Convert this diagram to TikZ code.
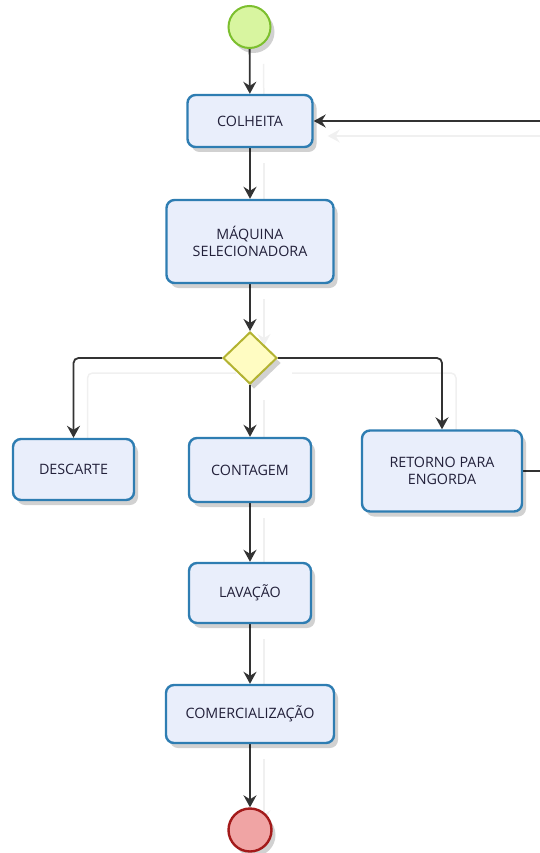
\documentclass[tikz,border=0pt]{standalone}
\usepackage{fontspec}
\setmainfont{Open Sans}
\usetikzlibrary{arrows.meta,shapes.geometric,shadows,backgrounds}
\definecolor{boxfill}{HTML}{E9EEFB}
\definecolor{boxdraw}{HTML}{2E7DB2}
\definecolor{startfill}{HTML}{D8F5A0}
\definecolor{startdraw}{HTML}{7CBF2E}
\definecolor{endfill}{HTML}{F0A4A4}
\definecolor{enddraw}{HTML}{A31A1A}
\definecolor{gwfill}{HTML}{FFFCC2}
\definecolor{gwdraw}{HTML}{B3B331}
\definecolor{txt}{HTML}{22203A}
\definecolor{conn}{HTML}{333333}
\tikzset{
  shd/.style={drop shadow={shadow xshift=4pt,shadow yshift=-5pt,opacity=0.18,fill=black}},
  task/.style={rectangle,rounded corners=8pt,draw=boxdraw,line width=2.4pt,fill=boxfill,
    text=txt,font=\fontsize{14.3}{17}\selectfont,align=center,inner sep=0pt,shd},
  evstart/.style={circle,draw=startdraw,line width=2pt,fill=startfill,inner sep=0pt,minimum size=42pt,shd},
  evend/.style={circle,draw=enddraw,line width=2.4pt,fill=endfill,inner sep=0pt,minimum size=43pt,shd},
  gateway/.style={diamond,draw=gwdraw,line width=2pt,fill=gwfill,inner sep=0pt,
    minimum width=54pt,minimum height=52pt,shd},
  connshadow/.style={preaction={draw=black!6,line width=1.5pt,transform canvas={shift={(14pt,-15pt)}}}},
  flow/.style={draw=conn,line width=1.8pt,rounded corners=5pt,connshadow,
    -{Stealth[length=12pt,width=13pt,inset=4pt]}},
  flowplain/.style={draw=conn,line width=2pt,rounded corners=5pt}
}
\begin{document}
\begin{tikzpicture}[x=1pt,y=-1pt]
\useasboundingbox (0,0) rectangle (540,853);
\node[evstart] (start) at (249.5,27) {};
\node[task,minimum width=125pt,minimum height=52pt] (colheita) at (250,121) {COLHEITA};
\node[task,minimum width=167pt,minimum height=83pt] (maquina) at (250,241.5) {MÁQUINA\\SELECIONADORA};
\node[gateway] (gw) at (250,358) {};
\node[task,minimum width=121pt,minimum height=61pt] (descarte) at (73.5,469.5) {DESCARTE};
\node[task,minimum width=122pt,minimum height=64pt] (contagem) at (250,470) {CONTAGEM};
\node[task,minimum width=160pt,minimum height=81pt] (retorno) at (442,471) {RETORNO PARA\\ENGORDA};
\node[task,minimum width=122pt,minimum height=60pt] (lavacao) at (250,593) {LAVAÇÃO};
\node[task,minimum width=168pt,minimum height=58pt] (comerc) at (250,714) {COMERCIALIZAÇÃO};
\node[evend] (fim) at (250,830) {};
\coordinate (loopout) at (540,471);
\coordinate (loopin) at (540,121);

\begin{scope}[on background layer]
\draw[flow] (start) -- (colheita);
\draw[flow] (colheita) -- (maquina);
\draw[flow] (maquina) -- (gw);
\draw[flow] (gw.west) -| (descarte.north);
\draw[flow] (gw) -- (contagem);
\draw[flow] (gw.east) -| (retorno.north);
\draw[flowplain] (retorno.east) -- (loopout);
\draw[flow] (loopin) -- (colheita.east);
\draw[flow] (contagem) -- (lavacao);
\draw[flow] (lavacao) -- (comerc);
\draw[flow] (comerc) -- (fim);
\end{scope}
\end{tikzpicture}
\end{document}
